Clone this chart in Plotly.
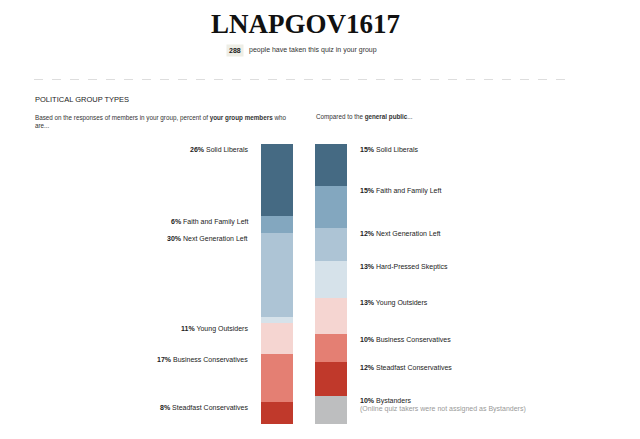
import plotly.graph_objects as go
import numpy as np

categories = ["Solid Liberals", "Faith and Family Left", "Next Generation Left",
              "Hard-Pressed Skeptics", "Young Outsiders", "Business Conservatives",
              "Steadfast Conservatives", "Bystanders"]
group_values = [26, 6, 30, 2, 11, 17, 8, 0]
public_values = [15, 15, 12, 13, 13, 10, 12, 10]
group_labeled = [True, True, True, False, True, True, True, False]
colors = ["#456a83", "#83a7bf", "#adc4d5", "#d6e2ea", "#f5d5d1", "#e47f73", "#c0392b", "#bdbebf"]

title_text = "LNAPGOV1617"
count_text = "288"
count_caption = "people have taken this quiz in your group"
section_title = "POLITICAL GROUP TYPES"
left_header = "Based on the responses of members in your group, percent of <b>your group members</b> who<br>are..."
right_header = "Compared to the <b>general public</b>..."
bystander_note = "(Online quiz takers were not assigned as Bystanders)"

FONT = "Liberation Sans, Arial, sans-serif"

# page offset (body margin) and figure size
OFF = 8
W, H = 632, 431

# axis mapping (pixel geometry, in page coordinates)
px_per_x = 54.0
x0_px = 277.0 - OFF
top_px, bot_px = 143.5 - OFF, 424.0 - OFF
px_per_y = (bot_px - top_px) / 100.0
xr = [-x0_px / px_per_x, (W - x0_px) / px_per_x]
yr = [(H - top_px) / px_per_y, -top_px / px_per_y]

def px(x):
    return (x - OFF) / W

def py(y):
    return 1 - (y - OFF) / H

fig = go.Figure()
for i, cat in enumerate(categories):
    fig.add_trace(go.Bar(
        x=[0, 1], y=[group_values[i], public_values[i]],
        width=32 / px_per_x, marker=dict(color=colors[i], line=dict(width=0)),
        name=cat, showlegend=False, hoverinfo="skip"))

ann = []
gcum = np.concatenate([[0], np.cumsum(group_values)[:-1]])
pcum = np.concatenate([[0], np.cumsum(public_values)[:-1]])
for i, cat in enumerate(categories):
    if group_labeled[i] and group_values[i] > 0:
        ann.append(dict(x=-0.5, y=gcum[i], xref="x", yref="y", xanchor="right", yanchor="middle",
                        yshift=-5.5, showarrow=False,
                        text=f"<b>{group_values[i]}%</b> {cat}",
                        font=dict(family=FONT, size=7, color="#222")))
    ann.append(dict(x=1.5, y=pcum[i], xref="x", yref="y", xanchor="left", yanchor="middle",
                    yshift=-5.5, showarrow=False,
                    text=f"<b>{public_values[i]}%</b> {cat}",
                    font=dict(family=FONT, size=7, color="#222")))
ann.append(dict(x=1.5, y=pcum[-1], xref="x", yref="y", xanchor="left", yanchor="middle",
                yshift=-13, showarrow=False, text=bystander_note,
                font=dict(family=FONT, size=7, color="#999")))

ann.append(dict(x=px(305), y=1, xref="paper", yref="paper", xanchor="center", yanchor="top",
                showarrow=False, text=f"<b>{title_text}</b>", borderpad=0,
                font=dict(family="Liberation Serif, Georgia, serif", size=27, color="#111")))
ann.append(dict(x=px(234.5), y=py(50), xref="paper", yref="paper", xanchor="center", yanchor="middle",
                showarrow=False, text=f"<b>{count_text}</b>", bgcolor="#eeeee6", borderpad=2,
                font=dict(family=FONT, size=7, color="#222")))
ann.append(dict(x=px(247), y=py(50), xref="paper", yref="paper", xanchor="left", yanchor="middle",
                showarrow=False, text=count_caption,
                font=dict(family=FONT, size=7, color="#333")))
ann.append(dict(x=px(33), y=py(100), xref="paper", yref="paper", xanchor="left", yanchor="middle",
                showarrow=False, text=section_title,
                font=dict(family=FONT, size=7.5, color="#222")))
ann.append(dict(x=px(33), y=py(112), xref="paper", yref="paper", xanchor="left", yanchor="top",
                showarrow=False, text=left_header, align="left",
                font=dict(family=FONT, size=6.3, color="#333")))
ann.append(dict(x=px(314), y=py(117), xref="paper", yref="paper", xanchor="left", yanchor="middle",
                showarrow=False, text=right_header, align="left",
                font=dict(family=FONT, size=6.3, color="#333")))

fig.update_layout(
    width=W, height=H, margin=dict(l=0, r=0, t=0, b=0),
    paper_bgcolor="white", plot_bgcolor="white",
    barmode="stack", bargap=0,
    xaxis=dict(range=xr, visible=False, fixedrange=True),
    yaxis=dict(range=yr, visible=False, fixedrange=True),
    annotations=ann,
    shapes=[dict(type="line", xref="paper", yref="paper", x0=px(34), x1=px(573),
                 y0=py(79.5), y1=py(79.5), line=dict(color="#dddddd", width=1, dash="dash"))],
)

fig.write_html("out.html")
